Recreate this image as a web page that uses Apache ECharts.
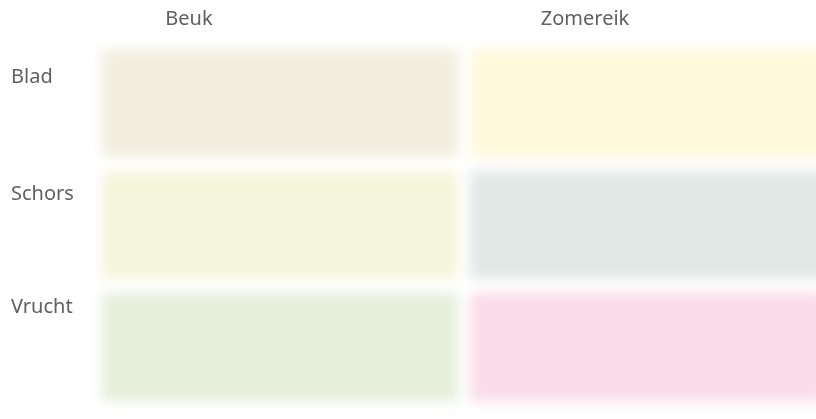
<!DOCTYPE html>
<html>
<head>
<meta charset="utf-8">
<script src="https://cdn.jsdelivr.net/npm/echarts@6/dist/echarts.min.js"></script>
<style>
  html, body { margin: 0; padding: 0; background: #fff; }
  #chart { width: 816px; height: 419px; }
</style>
</head>
<body>
<div id="chart"></div>
<script>
  // soorten (kolommen) en delen (rijen)
  const species = ['Beuk', 'Zomereik'];
  const parts = ['Blad', 'Schors', 'Vrucht'];

  // cellen: [kolom, rij]
  const cells = [
    [0, 0], [1, 0],
    [0, 1], [1, 1],
    [0, 2], [1, 2]
  ];
  const cellColors = ['#f2eedf', '#fff9db', '#f5f5dc', '#e1e9e7', '#e6efdc', '#fadcea'];

  // verschuiving van de labels t.o.v. het midden van de band
  const xLabelShift = [91, 63];
  const yLabelShift = [26, 31, 40];

  const OFF = 3000; // rect buiten beeld, alleen de vage schaduw is zichtbaar
  const GAP_X = 12;
  const GAP_Y = 14;

  const chart = echarts.init(document.getElementById('chart'));

  const xRich = {};
  species.forEach((s, i) => {
    xRich['x' + i] = { padding: [0, xLabelShift[i] * 2, 0, 0] };
  });
  const yRich = {};
  parts.forEach((p, i) => {
    yRich['y' + i] = { padding: [0, 0, yLabelShift[i] * 2, 0] };
  });

  chart.setOption({
    animation: false,
    grid: { left: 96, width: 736, top: 42, height: 366, outerBoundsMode: 'none', containLabel: false },
    xAxis: {
      type: 'category',
      position: 'top',
      data: species,
      axisLine: { show: false },
      axisTick: { show: false },
      splitLine: { show: false },
      axisLabel: {
        margin: 13,
        color: '#606060',
        fontFamily: 'Noto Sans',
        fontSize: 20,
        formatter: (v, i) => '{x' + i + '|' + v + '}',
        rich: xRich
      }
    },
    yAxis: {
      type: 'category',
      inverse: true,
      data: parts,
      axisLine: { show: false },
      axisTick: { show: false },
      splitLine: { show: false },
      axisLabel: {
        margin: 85,
        align: 'left',
        color: '#606060',
        fontFamily: 'Noto Sans',
        fontSize: 20,
        formatter: (v, i) => '{y' + i + '|' + v + '}',
        rich: yRich
      }
    },
    series: [{
      type: 'custom',
      silent: true,
      data: cells,
      renderItem: (params, api) => {
        const c = api.coord([api.value(0), api.value(1)]);
        const size = api.size([1, 1]);
        const color = cellColors[params.dataIndex];
        return {
          type: 'rect',
          shape: {
            x: c[0] - size[0] / 2 + GAP_X / 2 - OFF,
            y: c[1] - size[1] / 2 + GAP_Y / 2,
            width: size[0] - GAP_X,
            height: size[1] - GAP_Y
          },
          style: {
            fill: color,
            shadowColor: color,
            shadowBlur: 12,
            shadowOffsetX: OFF
          }
        };
      }
    }]
  });
</script>
</body>
</html>
